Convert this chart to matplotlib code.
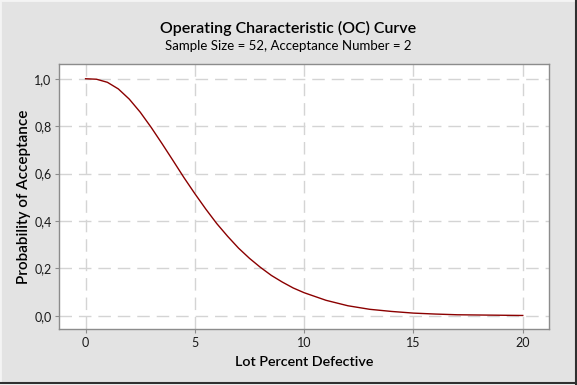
import matplotlib
matplotlib.use("Agg")
import matplotlib.pyplot as plt
from matplotlib.ticker import FuncFormatter
from matplotlib.patches import Rectangle

# values
lot_pct = [0, 0.5, 1, 1.5, 2, 2.5, 3, 3.5, 4, 4.5, 5, 5.5, 6, 6.5, 7, 7.5,
           8, 8.5, 9, 9.5, 10, 11, 12, 13, 14, 15, 16, 17, 18, 19, 20]
prob_accept = [1.000, 0.998, 0.985, 0.957, 0.914, 0.859, 0.795, 0.726, 0.655,
               0.583, 0.515, 0.450, 0.389, 0.335, 0.285, 0.242, 0.204, 0.170,
               0.142, 0.117, 0.097, 0.065, 0.042, 0.027, 0.018, 0.011, 0.007,
               0.004, 0.003, 0.002, 0.001]
x_ticks = [0, 5, 10, 15, 20]
y_ticks = [0.0, 0.2, 0.4, 0.6, 0.8, 1.0]

plt.rcParams['font.family'] = ['Lato', 'DejaVu Sans']

bg = '#e3e3e3'
fig = plt.figure(figsize=(5.77, 3.85), dpi=100, facecolor=bg)
ax = fig.add_axes([0.1028, 0.1455, 0.8487, 0.6875])
ax.set_facecolor('white')

ax.plot(lot_pct, prob_accept, color='#8b0000', lw=1.0, zorder=3)

ax.set_xlim(-1.2, 21.2)
ax.set_ylim(-0.056, 1.061)
ax.set_xticks(x_ticks)
ax.set_yticks(y_ticks)
ax.yaxis.set_major_formatter(FuncFormatter(lambda v, p: f"{v:.1f}".replace('.', ',')))

ax.grid(True, color='#d4d4d4', lw=1.0, ls=(0, (9, 5)))
ax.set_axisbelow(True)

for s in ax.spines.values():
    s.set_color('#8c8c8c')
    s.set_linewidth(1.0)
ax.tick_params(direction='out', length=3, width=0.8, color='#8c8c8c',
               labelsize=9, labelcolor='#1a1a1a', pad=2.5)

ax.set_xlabel('Lot Percent Defective', fontsize=10.3, fontweight='semibold',
              labelpad=5)
ax.set_ylabel('Probability of Acceptance', fontsize=11, fontweight='semibold',
              labelpad=2.5)

fig.text(0.5, 0.926, 'Operating Characteristic (OC) Curve', ha='center',
         va='center', fontsize=11.5, fontweight='semibold')
fig.text(0.5, 0.880, 'Sample Size = 52, Acceptance Number = 2', ha='center',
         va='center', fontsize=9.5)

# window frame: dark right and bottom edges
fig.patches.append(Rectangle((0, 0), 1, 1, transform=fig.transFigure,
                             fill=False, edgecolor='#f4f4f4', lw=2))
fig.lines.append(plt.Line2D([0.9975, 0.9975], [0, 1], transform=fig.transFigure,
                            color='#303030', lw=1.5))
fig.lines.append(plt.Line2D([0, 1], [0.004, 0.004], transform=fig.transFigure,
                            color='#303030', lw=1.5))

fig.savefig('out.png', dpi=100, facecolor=bg)
